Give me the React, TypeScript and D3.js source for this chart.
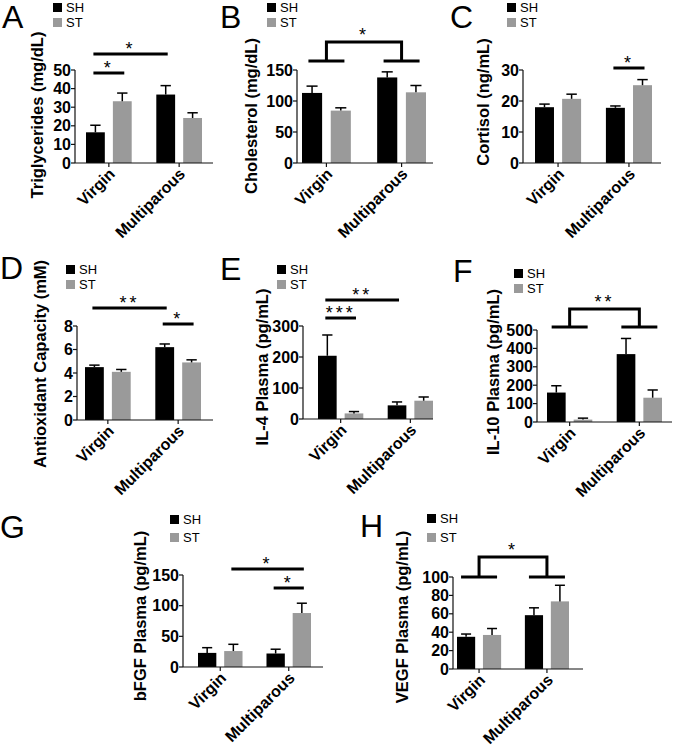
import React from 'react';
import * as d3 from 'd3';

const groups = ['Virgin', 'Multiparous'];
const seriesNames = ['SH', 'ST'];
const seriesColors = ['#000000', '#9a9a9a'];

// A - triglycerides (mg/dL), mean and sem per group
const trigSH = [16.5, 36.8];
const trigSHErr = [3.8, 4.8];
const trigST = [33.2, 24.2];
const trigSTErr = [4.4, 2.8];
const trigTicks = [0, 10, 20, 30, 40, 50];
const trigSig = [
  { a: [0, 0], b: [1, 0], label: '*' },
  { a: [0, 0], b: [0, 1], label: '*' },
];

// B - cholesterol (mg/dL)
const cholSH = [113, 138];
const cholSHErr = [11, 9];
const cholST = [84.5, 114];
const cholSTErr = [4.5, 11];
const cholTicks = [0, 50, 100, 150];
const cholSig = [{ bracket: true, label: '*' }];

// C - cortisol (ng/mL)
const cortSH = [18, 17.8];
const cortSHErr = [1, 0.6];
const cortST = [20.7, 25.1];
const cortSTErr = [1.5, 1.8];
const cortTicks = [0, 10, 20, 30];
const cortSig = [{ a: [1, 0], b: [1, 1], label: '*' }];

// D - antioxidant capacity (mM)
const antiSH = [4.5, 6.2];
const antiSHErr = [0.17, 0.27];
const antiST = [4.1, 4.9];
const antiSTErr = [0.2, 0.22];
const antiTicks = [0, 2, 4, 6, 8];
const antiSig = [
  { a: [0, 0], b: [1, 0], label: '**' },
  { a: [1, 0], b: [1, 1], label: '*' },
];

// E - IL-4 plasma (pg/mL)
const il4SH = [204, 44];
const il4SHErr = [67, 11];
const il4ST = [18, 59];
const il4STErr = [6, 12];
const il4Ticks = [0, 100, 200, 300];
const il4Sig = [
  { a: [0, 0], b: [1, 0], label: '**' },
  { a: [0, 0], b: [0, 1], label: '***' },
];

// F - IL-10 plasma (pg/mL)
const il10SH = [160, 369];
const il10SHErr = [37, 85];
const il10ST = [13, 132];
const il10STErr = [8, 42];
const il10Ticks = [0, 100, 200, 300, 400, 500];
const il10Sig = [{ bracket: true, label: '**' }];

// G - bFGF plasma (pg/mL)
const bfgfSH = [23, 22];
const bfgfSHErr = [8.5, 7];
const bfgfST = [26, 88];
const bfgfSTErr = [11, 16];
const bfgfTicks = [0, 50, 100, 150];
const bfgfSig = [
  { a: [0, 1], b: [1, 1], label: '*' },
  { a: [1, 0], b: [1, 1], label: '*' },
];

// H - VEGF plasma (pg/mL)
const vegfSH = [35, 58.5];
const vegfSHErr = [3, 8];
const vegfST = [37, 73.5];
const vegfSTErr = [7, 17.5];
const vegfTicks = [0, 20, 40, 60, 80, 100];
const vegfSig = [{ bracket: true, label: '*' }];

const FONT = '"Liberation Sans", Arial, Helvetica, sans-serif';

// layout of each panel on the page
const panels = [
  { letter: 'A', title: 'Triglycerides (mg/dL)', values: [trigSH, trigST], errs: [trigSHErr, trigSTErr], ticks: trigTicks, sig: trigSig,
    letterPos: [2, 28], legend: [53, 3, 15], axisX: 75, axisEnd: 213, yTop: 70, yZero: 163, band: [86, 202], titlePos: [37, 115], sigY: [54, 73] },
  { letter: 'B', title: 'Cholesterol (mg/dL)', values: [cholSH, cholST], errs: [cholSHErr, cholSTErr], ticks: cholTicks, sig: cholSig,
    letterPos: [220, 28], legend: [267, 3, 15], axisX: 297, axisEnd: 433, yTop: 70, yZero: 163, band: [302, 426], titlePos: [251, 116], sigY: [42, 61] },
  { letter: 'C', title: 'Cortisol (ng/mL)', values: [cortSH, cortST], errs: [cortSHErr, cortSTErr], ticks: cortTicks, sig: cortSig,
    letterPos: [450, 28], legend: [507, 3, 15], axisX: 523, axisEnd: 661, yTop: 70, yZero: 163, band: [535, 652], titlePos: [483, 102], sigY: [68] },
  { letter: 'D', title: 'Antioxidant Capacity (mM)', values: [antiSH, antiST], errs: [antiSHErr, antiSTErr], ticks: antiTicks, sig: antiSig,
    letterPos: [0, 279], legend: [66, 265, 15], axisX: 77, axisEnd: 213, yTop: 326, yZero: 420, band: [85, 201], titlePos: [40, 364], sigY: [308, 324] },
  { letter: 'E', title: 'IL-4 Plasma (pg/mL)', values: [il4SH, il4ST], errs: [il4SHErr, il4STErr], ticks: il4Ticks, sig: il4Sig,
    letterPos: [220, 280], legend: [277, 265, 15], axisX: 303, axisEnd: 433, yTop: 326, yZero: 419, band: [318, 433], titlePos: [262, 367], sigY: [300, 318] },
  { letter: 'F', title: 'IL-10 Plasma (pg/mL)', values: [il10SH, il10ST], errs: [il10SHErr, il10STErr], ticks: il10Ticks, sig: il10Sig,
    letterPos: [453, 282], legend: [514, 269, 15], axisX: 537, axisEnd: 672, yTop: 330, yZero: 422, band: [547, 662], titlePos: [493, 372], sigY: [309, 327] },
  { letter: 'G', title: 'bFGF Plasma (pg/mL)', values: [bfgfSH, bfgfST], errs: [bfgfSHErr, bfgfSTErr], ticks: bfgfTicks, sig: bfgfSig,
    letterPos: [0, 538], legend: [170, 515, 18], axisX: 183, axisEnd: 323, yTop: 575, yZero: 667, band: [198, 311], titlePos: [140, 616], sigY: [569, 588] },
  { letter: 'H', title: 'VEGF Plasma (pg/mL)', values: [vegfSH, vegfST], errs: [vegfSHErr, vegfSTErr], ticks: vegfTicks, sig: vegfSig,
    letterPos: [360, 537], legend: [427, 514, 19], axisX: 453, axisEnd: 583, yTop: 577, yZero: 669, band: [457, 569], titlePos: [402, 617], sigY: [557, 577] },
];

const Panel = ({ p }: { p: any }) => {
  const y = d3.scaleLinear().domain([0, d3.max(p.ticks) as number]).range([p.yZero, p.yTop]);
  const x0 = d3.scaleBand().domain(groups).range(p.band).paddingInner(0.35);
  const x1 = d3.scaleBand().domain(seriesNames).range([0, x0.bandwidth()]).paddingInner(0.3);
  const bw = x1.bandwidth();
  const groupCenter = (g: number) => (x0(groups[g]) as number) + x0.bandwidth() / 2;
  const barCenter = (g: number, s: number) => (x0(groups[g]) as number) + (x1(seriesNames[s]) as number) + bw / 2;
  const capW = bw * 0.55;

  return (
    <g>
      <text x={p.letterPos[0]} y={p.letterPos[1]} fontSize={32} fontFamily={FONT} fill="#000">{p.letter}</text>

      {seriesNames.map((s, i) => (
        <g key={s}>
          <rect x={p.legend[0]} y={p.legend[1] + i * p.legend[2]} width={9} height={9} fill={seriesColors[i]} />
          <text x={p.legend[0] + 13} y={p.legend[1] + i * p.legend[2] + 4.5} dominantBaseline="central" fontSize={13} fontFamily={FONT}>{s}</text>
        </g>
      ))}

      <text transform={`translate(${p.titlePos[0]},${p.titlePos[1]}) rotate(-90)`} textAnchor="middle" dominantBaseline="central"
        fontSize={16.5} fontWeight="bold" fontFamily={FONT}>{p.title}</text>

      {/* bars and error bars */}
      {groups.map((g, gi) => seriesNames.map((s, si) => {
        const v = p.values[si][gi];
        const e = p.errs[si][gi];
        const cx = barCenter(gi, si);
        return (
          <g key={g + s}>
            <rect x={cx - bw / 2} y={y(v)} width={bw} height={y(0) - y(v)} fill={seriesColors[si]} />
            <line x1={cx} x2={cx} y1={y(v)} y2={y(v + e)} stroke="#000" strokeWidth={1.5} />
            <line x1={cx - capW / 2} x2={cx + capW / 2} y1={y(v + e)} y2={y(v + e)} stroke="#000" strokeWidth={1.5} />
          </g>
        );
      }))}

      {/* y axis */}
      <line x1={p.axisX} x2={p.axisX} y1={y(d3.max(p.ticks) as number)} y2={y(0)} stroke="#111" strokeWidth={1.2} />
      {p.ticks.map((t: number) => (
        <g key={t}>
          <line x1={p.axisX - 4} x2={p.axisX} y1={y(t)} y2={y(t)} stroke="#111" strokeWidth={1.2} />
          <text x={p.axisX - 4} y={y(t)} textAnchor="end" dominantBaseline="central" fontSize={16} fontWeight="bold" fontFamily={FONT}>{t}</text>
        </g>
      ))}

      {/* x axis */}
      <line x1={p.axisX} x2={p.axisEnd} y1={p.yZero} y2={p.yZero} stroke="#111" strokeWidth={1.2} />
      {groups.map((g, gi) => (
        <g key={g}>
          <line x1={groupCenter(gi)} x2={groupCenter(gi)} y1={p.yZero} y2={p.yZero + 4} stroke="#111" strokeWidth={1.2} />
          <text transform={`translate(${groupCenter(gi) + 7},${p.yZero + 12}) rotate(-45)`} textAnchor="end"
            fontSize={16} fontWeight="bold" fontFamily={FONT}>{g}</text>
        </g>
      ))}

      {/* significance marks */}
      {p.sig.map((sg: any, i: number) => {
        if (sg.bracket) {
          const top = p.sigY[0];
          const leg = p.sigY[1];
          const c0 = groupCenter(0);
          const c1 = groupCenter(1);
          return (
            <g key={i}>
              <path d={`M${c0},${leg}V${top}H${c1}V${leg}`} fill="none" stroke="#000" strokeWidth={3} />
              <line x1={c0 - 18} x2={c0 + 18} y1={leg} y2={leg} stroke="#000" strokeWidth={3} />
              <line x1={c1 - 18} x2={c1 + 18} y1={leg} y2={leg} stroke="#000" strokeWidth={3} />
              <text x={(c0 + c1) / 2} y={top - 1} textAnchor="middle" fontSize={18} letterSpacing={3} fontFamily={FONT}>{sg.label}</text>
            </g>
          );
        }
        const xa = barCenter(sg.a[0], sg.a[1]) - 2;
        const xb = barCenter(sg.b[0], sg.b[1]) + 2;
        const ly = p.sigY[i];
        return (
          <g key={i}>
            <line x1={xa} x2={xb} y1={ly} y2={ly} stroke="#000" strokeWidth={3} />
            <text x={(xa + xb) / 2} y={ly + 1} textAnchor="middle" fontSize={18} letterSpacing={3} fontFamily={FONT}>{sg.label}</text>
          </g>
        );
      })}
    </g>
  );
};

const App = () => {
  return (
    <svg width={674} height={748} style={{ position: 'absolute', left: 0, top: 0, background: '#fff' }}>
      {panels.map((p) => <Panel key={p.letter} p={p} />)}
    </svg>
  );
};

export default App;
